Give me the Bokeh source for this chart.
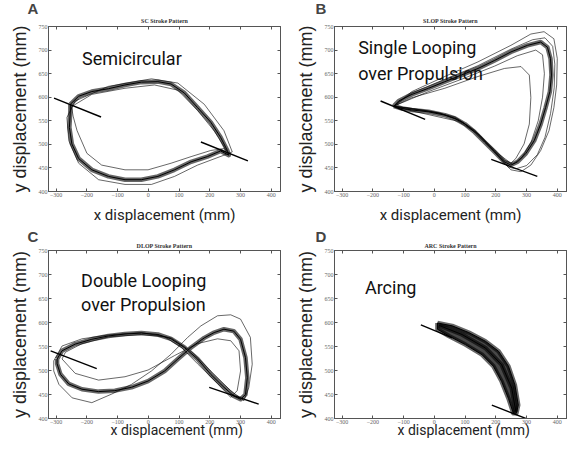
from bokeh.plotting import figure
from bokeh.models import FixedTicker, Title, Label, Range1d, LinearAxis
from bokeh.layouts import row, column
from bokeh.embed import file_html
from bokeh.resources import INLINE

X_TICKS = [-300, -200, -100, 0, 100, 200, 300, 400]
Y_TICKS = [400, 450, 500, 550, 600, 650, 700, 750]
X_MIN, X_MAX = -325, 430
Y_MIN, Y_MAX = 400, 750

# ---- Panel A : Semicircular (SC) ----
a_mean_x = [-254, -227, -184, -130, -76, -23, 31, 74, 117, 160, 203, 235, 257, 262, 235, 192, 139, 85, 31, -23, -76, -130, -184, -227, -249, -257, -254, -254]
a_mean_y = [585, 602, 612, 618, 626, 632, 633, 628, 609, 578, 547, 515, 487, 477, 486, 474, 463, 446, 432, 425, 425, 432, 446, 470, 501, 536, 571, 585]
a_outer_x = [-238, -130, 10, 96, 182, 246, 273, 246, 160, 85, 10, -76, -162, -227, -259, -265, -238]
a_outer_y = [592, 623, 639, 630, 585, 529, 484, 477, 456, 432, 415, 415, 425, 460, 508, 557, 592]
a_inner_x = [-250, -184, -76, 20, 96, 160, 215, 255, 246, 203, 139, 74, -1, -76, -152, -200, -232, -245, -250]
a_inner_y = [580, 606, 619, 626, 615, 572, 528, 486, 491, 487, 474, 460, 446, 446, 456, 481, 529, 560, 580]
a_tan1_x, a_tan1_y = [-307, -154], [598, 558]
a_tan2_x, a_tan2_y = [171, 324], [505, 465]

# ---- Panel B : Single looping over propulsion (SLOP) ----
b_mean_x = [-132, -116, -73, -19, 34, 88, 142, 196, 249, 303, 346, 368, 378, 381, 376, 362, 346, 325, 298, 271, 249, 228, 196, 163, 131, 99, 67, 34, -19, -73, -105, -132]
b_mean_y = [581, 592, 606, 619, 633, 647, 661, 678, 696, 710, 717, 706, 682, 647, 612, 578, 543, 508, 481, 463, 456, 463, 484, 505, 526, 543, 555, 562, 569, 573, 576, 581]
b_outer_x = [-132, -73, 34, 142, 249, 314, 357, 389, 400, 398, 389, 373, 346, 314, 282, 249, 228, 185, 131, 77, 13, -73, -132]
b_outer_y = [581, 612, 644, 675, 710, 734, 739, 724, 682, 626, 578, 529, 487, 456, 442, 446, 460, 491, 529, 553, 567, 576, 581]
b_inner_x = [-132, -73, 34, 142, 228, 282, 309, 314, 309, 292, 265, 249, 206, 142, 77, 2, -73, -132]
b_inner_y = [581, 599, 619, 644, 661, 665, 647, 599, 543, 501, 470, 460, 481, 522, 549, 560, 571, 581]
b_mid1_x = [-132, -19, 88, 196, 270, 330, 352, 358, 352, 338, 315, 285, 255, 228, 196, 131, 67, -19, -132]
b_mid1_y = [581, 612, 638, 666, 688, 700, 690, 650, 600, 550, 505, 472, 458, 466, 488, 530, 558, 571, 581]
b_mid2_x = [-132, -73, 34, 142, 249, 320, 360, 385, 392, 390, 378, 360, 335, 300, 265, 240, 210, 150, 90, 20, -73, -132]
b_mid2_y = [581, 609, 638, 667, 702, 722, 726, 708, 670, 620, 565, 515, 478, 455, 448, 452, 474, 518, 548, 566, 575, 581]
b_tan1_x, b_tan1_y = [-175, -30], [592, 553]
b_tan2_x, b_tan2_y = [185, 335], [468, 432]

# ---- Panel C : Double looping over propulsion (DLOP) ----
c_mean_x = [-297, -281, -238, -184, -130, -76, -23, 31, 74, 117, 160, 203, 246, 278, 300, 316, 322, 316, 300, 278, 246, 214, 182, 139, 96, 53, -1, -55, -109, -162, -216, -259, -286, -297, -297]
c_mean_y = [524, 541, 555, 565, 572, 576, 578, 575, 566, 548, 524, 492, 465, 447, 440, 450, 485, 527, 565, 582, 586, 579, 568, 548, 524, 499, 478, 465, 458, 456, 461, 472, 492, 514, 524]
c_outer_x = [-308, -281, -216, -130, -23, 74, 139, 203, 268, 311, 327, 338, 332, 300, 268, 225, 171, 128, 74, 10, -55, -119, -184, -248, -291, -308, -308]
c_outer_y = [520, 551, 566, 574, 579, 568, 540, 499, 458, 437, 465, 513, 569, 607, 616, 614, 593, 569, 534, 499, 471, 451, 433, 443, 471, 499, 520]
c_inner_x = [-281, -238, -162, -76, -1, 85, 160, 225, 268, 295, 300, 289, 268, 225, 160, 106, 53, -23, -130, -216, -270, -281]
c_inner_y = [524, 494, 480, 487, 501, 531, 556, 566, 562, 541, 499, 458, 444, 473, 514, 549, 570, 575, 570, 556, 538, 524]
c_tan1_x, c_tan1_y = [-318, -168], [541, 504]
c_tan2_x, c_tan2_y = [198, 359], [465, 430]

# ---- Panel D : Arcing (ARC) ----
d_mean_x = [10, 58, 112, 166, 209, 241, 262, 273, 267, 257, 241, 219, 192, 155, 101, 47, 10, 10]
d_mean_y = [599, 593, 579, 561, 540, 509, 470, 428, 411, 411, 442, 477, 509, 533, 554, 572, 586, 599]
d_mid_x = [15, 90, 166, 219, 252, 265]
d_mid_y = [594, 575, 547, 512, 463, 414]
d_tan1_x, d_tan1_y = [-44, 58], [595, 568]
d_tan2_x, d_tan2_y = [187, 338], [428, 390]

AX = "#555555"
SANS = "Roboto"


def make_panel(width, height, bl, br, bt, bb, letter, letter_off, title, xlab, tstand):
    p = figure(width=width, height=height, x_range=Range1d(X_MIN, X_MAX), y_range=Range1d(Y_MIN, Y_MAX),
               output_backend="svg", toolbar_location=None, title=None,
               min_border_left=bl, min_border_right=br, min_border_top=bt, min_border_bottom=bb)
    p.xgrid.grid_line_color = None
    p.ygrid.grid_line_color = None
    p.outline_line_color = AX
    p.outline_line_alpha = 1.0
    p.xaxis.ticker = FixedTicker(ticks=X_TICKS)
    p.yaxis.ticker = FixedTicker(ticks=Y_TICKS)
    for ax in (p.xaxis[0], p.yaxis[0]):
        ax.major_tick_in = 3
        ax.major_tick_out = 0
        ax.minor_tick_line_color = None
        ax.axis_line_color = AX
        ax.major_tick_line_color = AX
        ax.major_label_text_font_size = "6px"
        ax.major_label_text_color = "#666666"
        ax.major_label_text_font = "Liberation Serif"
        ax.major_label_standoff = 1
        ax.axis_label_text_font_style = "normal"
        ax.axis_label_text_color = "#222222"
    p.yaxis.axis_label = "y displacement (mm)"
    p.yaxis.axis_label_text_font = "Liberation Sans"
    p.yaxis.axis_label_text_font_size = "18px"
    p.yaxis.axis_label_standoff = 6
    # box axes on the top and right edges with inward ticks (MATLAB style)
    top = LinearAxis(ticker=FixedTicker(ticks=X_TICKS), major_tick_in=3, major_tick_out=0,
                     minor_tick_line_color=None, major_label_text_font_size="0px",
                     major_label_standoff=0, axis_line_color=AX, major_tick_line_color=AX)
    right = LinearAxis(ticker=FixedTicker(ticks=Y_TICKS), major_tick_in=3, major_tick_out=0,
                       minor_tick_line_color=None, major_label_text_font_size="0px",
                       major_label_standoff=0, axis_line_color=AX, major_tick_line_color=AX)
    p.add_layout(top, "above")
    p.add_layout(right, "right")
    # x axis title as a "below" title (allows the small offsets of the original)
    xalign, xoff, xsize, xstand = xlab
    p.add_layout(Title(text="x displacement (mm)", align=xalign, offset=xoff, text_font=SANS,
                       text_font_size=xsize, text_font_style="normal", text_color="#222222",
                       standoff=xstand), "below")
    s_title, s_letter = tstand
    p.add_layout(Title(text=title, align="center", text_font_size="6px", text_font="Liberation Serif",
                       text_font_style="bold", text_color="#333333", standoff=s_title), "above")
    p.add_layout(Title(text=letter, align="left", offset=letter_off, text_font_size="15px",
                       text_font="Liberation Sans", text_font_style="bold", standoff=s_letter), "above")
    return p


def draw_loops(p, bands, others):
    for bx, by in bands:
        p.line(bx, by, line_color="black", line_width=4.5, line_alpha=0.6, line_join="round")
    for ox, oy in others:
        p.line(ox, oy, line_color="black", line_width=0.7, line_alpha=0.85, line_join="round")
    for bx, by in bands:
        p.line(bx, by, line_color="black", line_width=1, line_join="round")


def draw_tangents(p, t1x, t1y, t2x, t2y):
    p.line(t1x, t1y, line_color="black", line_width=1.4)
    p.line(t2x, t2y, line_color="black", line_width=1.4)


def add_text(p, x, y, text):
    p.add_layout(Label(x=x, y=y, text=text, text_font=SANS, text_font_size="18px",
                       text_color="#111111", text_baseline="alphabetic"))


pA = make_panel(284, 228, 48, 4, 26, 34, "A", -21, "SC Stroke Pattern", ("center", 0, "15px", 9), (6, -8))
draw_loops(pA, [(a_mean_x, a_mean_y)], [(a_outer_x, a_outer_y), (a_inner_x, a_inner_y)])
draw_tangents(pA, a_tan1_x, a_tan1_y, a_tan2_x, a_tan2_y)
add_text(pA, -216, 683, "Semicircular")

pB = make_panel(285, 228, 50, 3, 26, 34, "B", -19, "SLOP Stroke Pattern", ("center", 0, "15px", 9), (6, -8))
draw_loops(pB, [(b_mean_x, b_mean_y)], [(b_outer_x, b_outer_y), (b_inner_x, b_inner_y),
                                        (b_mid1_x, b_mid1_y), (b_mid2_x, b_mid2_y)])
draw_tangents(pB, b_tan1_x, b_tan1_y, b_tan2_x, b_tan2_y)
add_text(pB, -248, 706, "Single Looping")
add_text(pB, -248, 650, "over Propulsion")

pC = make_panel(284, 213, 48, 4, 22, 23, "C", -21, "DLOP Stroke Pattern", ("left", 62, "14px", -14), (4, -12))
draw_loops(pC, [(c_mean_x, c_mean_y)], [(c_outer_x, c_outer_y), (c_inner_x, c_inner_y)])
draw_tangents(pC, c_tan1_x, c_tan1_y, c_tan2_x, c_tan2_y)
add_text(pC, -219, 687, "Double Looping")
add_text(pC, -219, 637, "over Propulsion")

pD = make_panel(285, 213, 50, 3, 22, 23, "D", -19, "ARC Stroke Pattern", ("left", 63, "14px", -14), (4, -12))
pD.patch(d_mean_x, d_mean_y, fill_color="#1a1a1a", fill_alpha=0.8, line_color=None)
draw_loops(pD, [(d_mean_x, d_mean_y), (d_mid_x, d_mid_y)], [])
draw_tangents(pD, d_tan1_x, d_tan1_y, d_tan2_x, d_tan2_y)
add_text(pD, -226, 672, "Arcing")

layout = column(row(pA, pB), row(pC, pD))
open("out.html", "w").write(file_html(layout, INLINE))
